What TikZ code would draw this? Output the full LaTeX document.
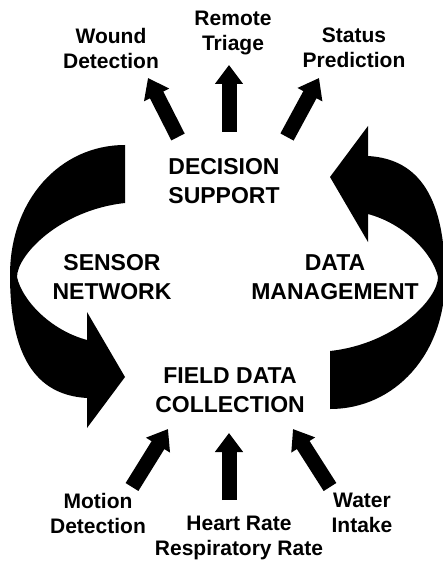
\documentclass[tikz,border=0pt]{standalone}
\usepackage{fontspec}
\setmainfont{Liberation Sans}
\usetikzlibrary{arrows.meta}

\begin{document}
\begin{tikzpicture}[x=1pt,y=-1pt,
  small/.style={font=\fontsize{21}{25}\selectfont\bfseries,align=center,inner sep=0pt},
  big/.style={font=\fontsize{23}{29}\selectfont\bfseries,align=center,inner sep=0pt},
  blockarrow/.style={line width=15pt,-{Triangle[width=27pt,length=19pt]}}]
\useasboundingbox (0,0) rectangle (443,561);
% curved arrows of the cycle
\foreach \ang in {0,180}
  \fill[rotate around={\ang:(227.5,277)}] (125,145) .. controls (60,145) and (10,200) .. (10,275)
    .. controls (10,355) and (35,395) .. (87,398) -- (87,428) -- (125,377) -- (87,312) -- (87,340)
    .. controls (50,330) and (22,300) .. (17,277)
    .. controls (17,255) and (60,210) .. (125,203) -- cycle;
% labels
\node[big] (dec) at (224,181) {DECISION\\SUPPORT};
\node[big] (sensor) at (112,277) {SENSOR\\NETWORK};
\node[big] (datamgmt) at (335,277) {DATA\\MANAGEMENT};
\node[big] (field) at (230,390) {FIELD DATA\\COLLECTION};
\node[small] (wound) at (111,48) {Wound\\Detection};
\node[small] (triage) at (233,33) {Remote\\Triage};
\node[small] (status) at (354,48) {Status\\Prediction};
\node[small] (motion) at (98,513) {Motion\\Detection};
\node[small] (heart) at (239,538) {Heart Rate\\Respiratory Rate};
\node[small] (water) at (362,513) {Water\\Intake};
% arrow ends
\coordinate (w1) at (178,137); \coordinate (w2) at (148,78);
\coordinate (t1) at (229,132); \coordinate (t2) at (229,65);
\coordinate (s1) at (287,137); \coordinate (s2) at (319,78);
\coordinate (m1) at (132,487); \coordinate (m2) at (168,429);
\coordinate (h1) at (229,500); \coordinate (h2) at (229,433);
\coordinate (i1) at (330,487); \coordinate (i2) at (293,429);
\draw[blockarrow] (w1) -- (w2);
\draw[blockarrow] (t1) -- (t2);
\draw[blockarrow] (s1) -- (s2);
\draw[blockarrow] (m1) -- (m2);
\draw[blockarrow] (h1) -- (h2);
\draw[blockarrow] (i1) -- (i2);
\end{tikzpicture}
\end{document}
